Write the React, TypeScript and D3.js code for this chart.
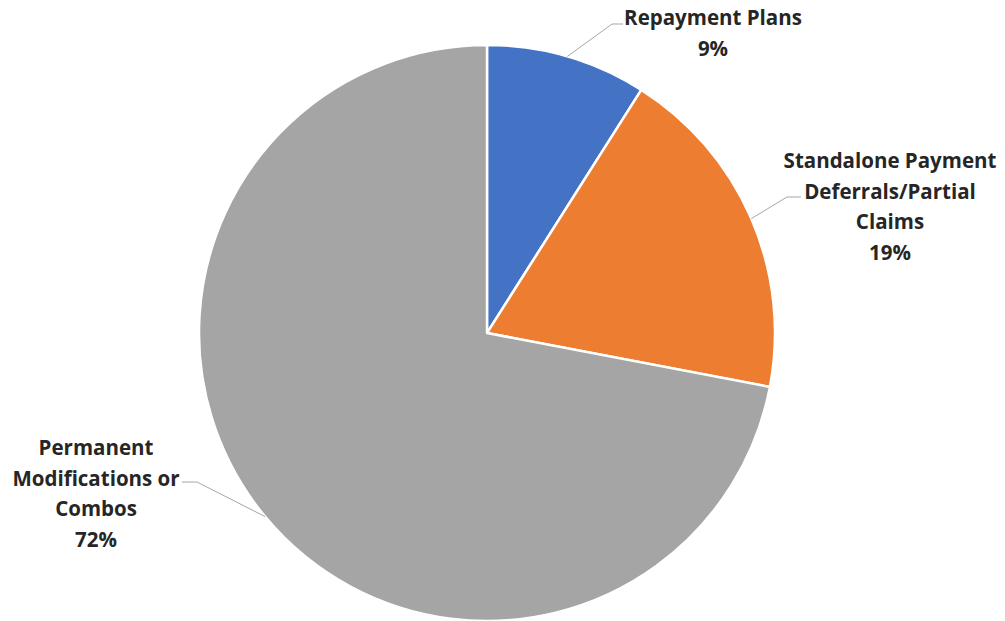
import React from "react";
import * as d3 from "d3";

const categories = ["Repayment Plans", "Standalone Payment Deferrals/Partial Claims", "Permanent Modifications or Combos"];
const values = [9, 19, 72];
const colors = ["#4472C4", "#ED7D31", "#A5A5A5"];
const labelLines = [
  ["Repayment Plans", "9%"],
  ["Standalone Payment", "Deferrals/Partial", "Claims", "19%"],
  ["Permanent", "Modifications or", "Combos", "72%"],
];

// layout (not data)
const W = 1005, H = 621;
const cx = 487, cy = 333, R = 288;
const labelLayout = [
  { x: 713, y: 17, elbow: [612, 24], end: [623, 24] },
  { x: 890, y: 160, elbow: [787, 197], end: [801, 197] },
  { x: 96, y: 447, elbow: [197, 482], end: [182, 482] },
];
const lineH = 30.5;

export default function App() {
  const pie = d3.pie<number>().sort(null).value((d) => d);
  const arcs = pie(values);
  const arc = d3.arc<d3.PieArcDatum<number>>().innerRadius(0).outerRadius(R);
  return (
    <div style={{ position: "fixed", left: 0, top: 0 }}>
      <svg width={W} height={H} style={{ display: "block", background: "#fff" }}>
        <g transform={`translate(${cx},${cy})`}>
          {arcs.map((a, i) => (
            <path key={i} d={arc(a) || ""} fill={colors[i]} stroke="#fff" strokeWidth={2.5} strokeLinejoin="round" />
          ))}
        </g>
        {arcs.map((a, i) => {
          const m = (a.startAngle + a.endAngle) / 2;
          const sx = cx + Math.sin(m) * R;
          const sy = cy - Math.cos(m) * R;
          const L = labelLayout[i];
          return (
            <polyline key={"l" + i}
              points={`${sx},${sy} ${L.elbow[0]},${L.elbow[1]} ${L.end[0]},${L.end[1]}`}
              fill="none" stroke="#A6A6A6" strokeWidth={1} />
          );
        })}
        {labelLines.map((lines, i) => (
          <text key={"t" + i} textAnchor="middle" fontFamily="'Open Sans', Lato, sans-serif" fontWeight="bold" fontSize={20.5} fill="#262626">
            {lines.map((t, j) => (
              <tspan key={j} x={labelLayout[i].x} y={labelLayout[i].y + j * lineH} dominantBaseline="central">{t}</tspan>
            ))}
          </text>
        ))}
      </svg>
    </div>
  );
}
